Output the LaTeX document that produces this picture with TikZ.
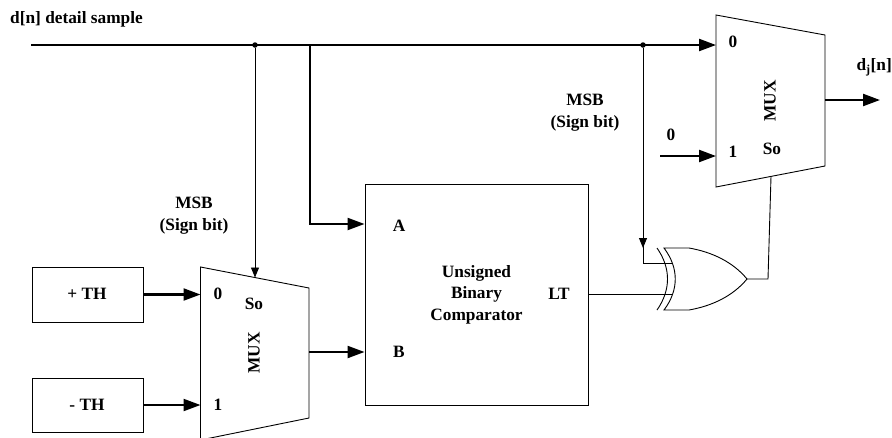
\documentclass[tikz,border=0pt]{standalone}
\usepackage{fontspec}
\setmainfont{Liberation Serif}
\usetikzlibrary{arrows.meta}
\tikzset{
  blk/.style={draw, line width=0.9pt, inner sep=0pt},
  lbl/.style={font=\bfseries\fontsize{17.3}{21.5}\selectfont, align=center, inner sep=0pt},
  dot/.style={circle, fill=black, inner sep=0pt, minimum size=5.5pt},
  bus/.style={line width=2.2pt, -{Triangle[length=17pt,width=12pt]}},
  sig/.style={line width=0.9pt, -{Triangle[length=10pt,width=8pt]}},
  wire/.style={line width=0.9pt}
}
\begin{document}
\begin{tikzpicture}[x=1pt, y=-1pt]
  \clip (0,0) rectangle (892,437);
  % muxes and boxes
  \draw[wire] (716,15) -- (825,35) -- (825,166) -- (716,187) -- cycle;
  \draw[wire] (200.5,267) -- (309,288) -- (309,418) -- (200.5,440) -- cycle;
  \node[blk, minimum width=111pt, minimum height=55pt] (plusth) at (87.5,294.5) {};
  \node[blk, minimum width=111pt, minimum height=54pt] (minusth) at (87.5,405) {};
  \node[blk, minimum width=223pt, minimum height=221pt] (comp) at (476.5,294.5) {};
  % mux end points
  \coordinate (start) at (31,45);
  \node[dot] (jso) at (255,45) {};
  \node[dot] (jxor) at (643,45) {};
  \coordinate (jcomp) at (310,45);
  \coordinate (topin) at (716,45);
  \coordinate (topone) at (716,156);
  \coordinate (zero) at (660,156);
  \coordinate (topso) at (771,176.5);
  \coordinate (topout) at (825,100);
  \coordinate (dout) at (880,100);
  \coordinate (botso) at (255,277.5);
  \coordinate (botzero) at (200.5,294.5);
  \coordinate (botone) at (200.5,405);
  \coordinate (botout) at (309,352);
  % xor gate
  \coordinate (xtop) at (664,248);
  \coordinate (xbot) at (664,310);
  \coordinate (xtip) at (747,279);
  \coordinate (xa) at (673,263);
  \coordinate (xb) at (673,294.5);
  \draw[wire] (657,248) .. controls (671,268) and (671,290) .. (657,310);
  \draw[wire] (xtop) .. controls (679,268) and (679,290) .. (xbot)
    -- (689,310) .. controls (712,306) and (733,296) .. (xtip)
    .. controls (733,262) and (712,252) .. (689,248) -- cycle;
  % connectors
  \draw[bus] (start) -- (topin);
  \draw[sig] (jso) -- (botso);
  \draw[bus] (jcomp) |- (comp.west |- 0,224);
  \draw[sig] (jxor) -- (643,248);
  \draw[wire] (643,245) |- (xa);
  \draw[wire] (comp.east |- xb) -- (xb);
  \draw[wire] (xtip) -- (768,279) -- (topso);
  \draw[bus] (zero) -- (topone);
  \draw[bus] (topout) -- (dout);
  \draw[bus] (plusth.east) -- (botzero);
  \draw[bus] (minusth.east) -- (botone);
  \draw[bus] (botout) -- (comp.west |- botout);
  % labels
  \node[lbl, anchor=west] (dn) at (10,19) {d[n] detail sample};
  \node[lbl] (msbtop) at (585,112.5) {MSB\\(Sign bit)};
  \node[lbl] (msbbot) at (194,215.5) {MSB\\(Sign bit)};
  \node[lbl] (zeroin) at (671,135) {0};
  \node[lbl] (topzero) at (733,42) {0};
  \node[lbl] (topsel) at (733,152) {1};
  \node[lbl] (topsox) at (772,149) {So};
  \node[lbl, rotate=90] (topmux) at (770,101) {MUX};
  \node[lbl, anchor=east] (djn) at (892,67) {d\textsubscript{j}[n]};
  \node[lbl] (thp) at (87,294) {+ TH};
  \node[lbl] (thm) at (87,405) {- TH};
  \node[lbl] (botsel0) at (218,294) {0};
  \node[lbl] (botsel1) at (218,405) {1};
  \node[lbl] (botsox) at (254,304) {So};
  \node[lbl, rotate=90] (botmux) at (254,353) {MUX};
  \node[lbl] (ina) at (399,226) {A};
  \node[lbl] (inb) at (399,352) {B};
  \node[lbl] (outlt) at (559,294) {LT};
  \node[lbl] (cmp) at (476.5,294.5) {Unsigned\\Binary\\Comparator};
\end{tikzpicture}
\end{document}
